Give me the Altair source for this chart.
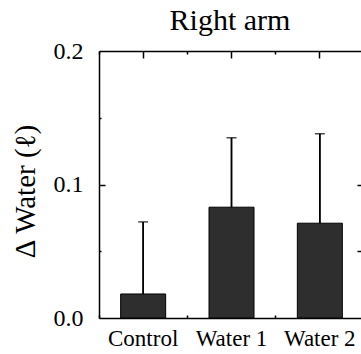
import altair as alt
import pandas as pd

# Mean change in water with upward standard-deviation whiskers
groups = ["Control", "Water 1", "Water 2"]
means = [0.018, 0.083, 0.071]
errors = [0.054, 0.052, 0.067]

df = pd.DataFrame({"group": groups, "mean": means, "err": errors})

SERIF = "Liberation Serif"
W, H = 262, 267

x_scale = alt.Scale(range=[0, 265], paddingInner=0, paddingOuter=0)
y_scale = alt.Scale(domain=[0, 0.2], nice=False, zero=True)

base = alt.Chart(df).transform_calculate(upper="datum.mean + datum.err")


def xenc(axis):
    return alt.X("group:N", sort=groups, scale=x_scale, axis=axis, title=None)


def yenc(field, axis):
    return alt.Y(f"{field}:Q", scale=y_scale, axis=axis, title=None)


# frame axes: labelled bottom/left, inward ticks on all four sides
bottom_labels = alt.Axis(orient="bottom", title=None, labelAngle=0, labelFont=SERIF,
                         labelFontSize=23, labelColor="black", labelPadding=9,
                         ticks=False, domainColor="black", domainWidth=1.5)
left_labels = alt.Axis(orient="left", title="Δ Water (ℓ)", values=[0, 0.1, 0.2], format=".1f",
                       labelFont=SERIF, labelFontSize=24, labelColor="black", labelPadding=16,
                       ticks=False, domainColor="black", domainWidth=1.5, grid=False,
                       titleFont=SERIF, titleFontSize=29, titleFontWeight="normal",
                       titleColor="black", titlePadding=13, titleY=140)
top_major = alt.Axis(orient="bottom", offset=-H, labels=False, title=None, tickSize=7,
                     tickColor="black", tickWidth=1.5, domainColor="black", domainWidth=1.5)
top_minor = alt.Axis(orient="bottom", offset=-H, labels=False, title=None, bandPosition=0,
                     tickSize=3, tickColor="black", tickWidth=1.5, domain=False)
bottom_minor = alt.Axis(orient="top", offset=-H, labels=False, title=None, bandPosition=0,
                        tickSize=3, tickColor="black", tickWidth=1.5, domain=False)
left_major = alt.Axis(orient="right", offset=-W, values=[0.1], labels=False, title=None,
                      tickSize=6, tickColor="black", tickWidth=1.5, domain=False, grid=False)
left_minor = alt.Axis(orient="right", offset=-W, values=[0.05, 0.15], labels=False, title=None,
                      tickSize=2, tickColor="black", tickWidth=1.5, domain=False, grid=False)
right_ticks = alt.Axis(orient="left", offset=-(W + 2), values=[0.05, 0.1], labels=False,
                       title=None, tickSize=6, tickColor="black", tickWidth=1.5,
                       domain=False, grid=False)

bars = base.mark_bar(size=45, color="#2e2e2e", stroke="black", strokeWidth=1).encode(
    x=xenc(bottom_labels), y=yenc("mean", left_labels)
)
whiskers = base.mark_rule(color="black", strokeWidth=1.5).encode(
    x=xenc(top_major), y=yenc("mean", left_major), y2="upper:Q"
)
caps = base.mark_tick(color="black", size=10, thickness=1.5).encode(
    x=xenc(top_minor), y=yenc("upper", left_minor)
)
whiskers2 = base.mark_rule(color="black", strokeWidth=1.5).encode(
    x=xenc(bottom_minor), y=yenc("mean", right_ticks), y2="upper:Q"
)

chart = (
    alt.layer(bars, whiskers, caps, whiskers2)
    .resolve_axis(x="independent", y="independent")
    .properties(
        width=W,
        height=H,
        title=alt.TitleParams("Right arm", font=SERIF, fontSize=30, fontWeight="normal",
                              color="black", anchor="middle", offset=3),
        padding={"left": 99, "top": 51, "right": 0, "bottom": 36},
        autosize=alt.AutoSizeParams(type="none"),
        background="white",
    )
    .configure_view(stroke=None)
    .configure_axis(grid=False, labelFont=SERIF, titleFont=SERIF)
    .configure_title(font=SERIF)
)

chart.save("out.html", embed_options={"renderer": "svg", "actions": False})
